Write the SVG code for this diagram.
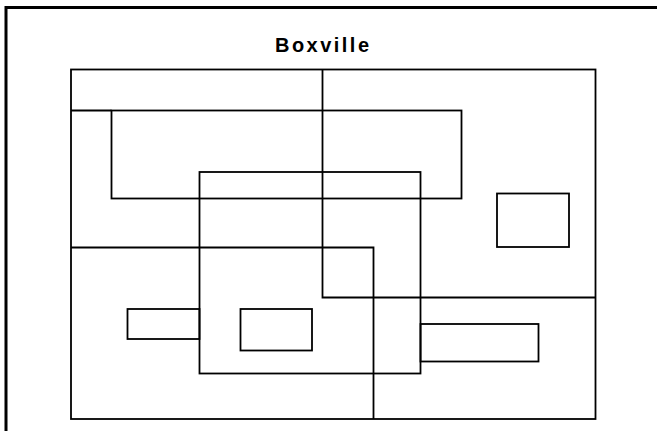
<svg xmlns="http://www.w3.org/2000/svg" width="657" height="431" viewBox="0 0 657 431">
<style>
.s{fill:none;stroke:#000;stroke-width:1.8}
.f{fill:none;stroke:#000;stroke-width:3}
.t{font-family:"Liberation Sans",Arial,sans-serif;font-weight:bold;font-size:20px;fill:#000}
</style>
<rect width="657" height="431" fill="#fff"/>
<path class="f" d="M6,431 V7.5 H657"/>
<text class="t" x="322" y="51.5" text-anchor="middle" textLength="94" lengthAdjust="spacing">Boxville</text>
<g id="town"><rect class="s" x="71" y="69.5" width="524.5" height="349.5"/></g>
<g id="lines">
<path class="s" d="M71,110.5 H111.5"/>
<path class="s" d="M322.5,69.5 V297.5 H595.5"/>
<path class="s" d="M71,247.5 H373.5 V419"/>
</g>
<g id="box1"><rect class="s" x="111.5" y="110.5" width="350" height="88"/></g>
<g id="box2"><rect class="s" x="199.5" y="172" width="221" height="201.5"/></g>
<g id="box3"><rect class="s" x="497" y="193.5" width="72" height="53.5"/></g>
<g id="box4"><rect class="s" x="127.5" y="309" width="72" height="30"/></g>
<g id="box5"><rect class="s" x="240.5" y="309" width="71.5" height="41.5"/></g>
<g id="box6"><rect class="s" x="420.5" y="324" width="118" height="37.5"/></g>
</svg>
